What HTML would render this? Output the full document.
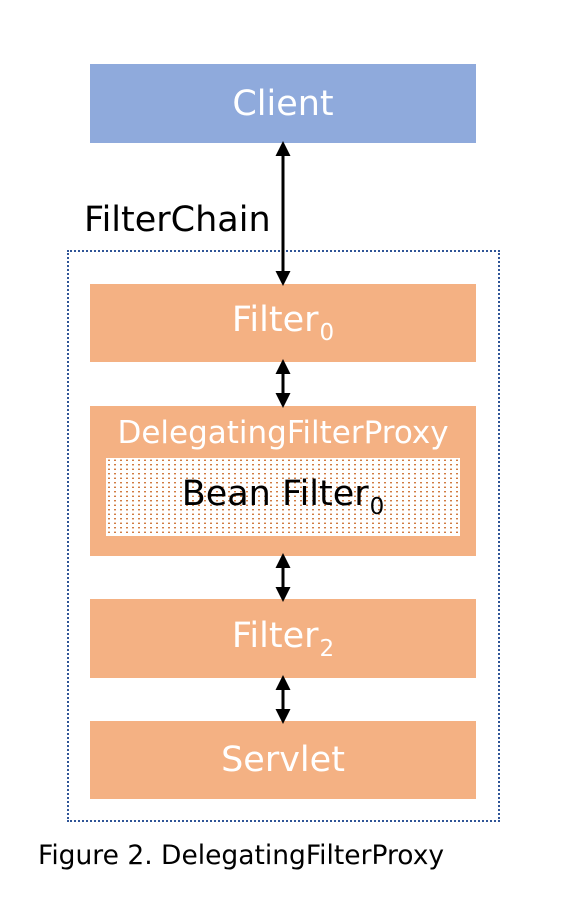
<!DOCTYPE html>
<html><head><meta charset="utf-8"><style>
body{margin:0;width:566px;height:915px;background:#fff;position:relative;overflow:hidden;font-family:"DejaVu Sans","Liberation Sans",sans-serif}
.b{position:absolute;left:90px;width:386px;display:flex;align-items:center;justify-content:center;color:#fff;font-size:35px}
.o{background:#f4b183}
sub{font-size:23px;vertical-align:-9px;margin-left:1px}
</style></head><body>
<div class="b" style="top:64px;height:79px;background:#8faadc"><span>Client</span></div>
<div style="position:absolute;left:84px;top:200px;font-size:35px;color:#000">FilterChain</div>
<div style="position:absolute;left:67px;top:250px;width:429px;height:568px;border:2px dotted #2f5597"></div>
<div class="b o" style="top:284px;height:78px"><span>Filter<sub>0</sub></span></div>
<div class="b o" style="top:406px;height:150px;align-items:flex-start">
<div style="margin-top:9px;font-size:31px">DelegatingFilterProxy</div></div>
<div style="position:absolute;left:106px;top:458px;width:354px;height:78px;background-color:#fff;background-image:radial-gradient(circle,#c55a11 0.7px,transparent 1px);background-size:6px 4.5px;display:flex;align-items:center;justify-content:center;font-size:35px;color:#000"><span>Bean Filter<sub>0</sub></span></div>
<div class="b o" style="top:599px;height:79px"><span>Filter<sub>2</sub></span></div>
<div class="b o" style="top:721px;height:78px"><span>Servlet</span></div>
<svg width="566" height="915" style="position:absolute;left:0;top:0">
<defs><marker id="a" markerWidth="5" markerHeight="5" refX="2" refY="2.5" orient="auto-start-reverse" markerUnits="strokeWidth"><path d="M0,0L5,2.5L0,5z" fill="#000"/></marker></defs>
<g stroke="#000" stroke-width="3" marker-start="url(#a)" marker-end="url(#a)">
<line x1="283" y1="150" x2="283" y2="277"/>
<line x1="283" y1="368" x2="283" y2="399"/>
<line x1="283" y1="562" x2="283" y2="593"/>
<line x1="283" y1="684" x2="283" y2="715"/>
</g></svg>
<div style="position:absolute;left:38px;top:840px;font-size:26.5px;color:#000">Figure 2. DelegatingFilterProxy</div>
</body></html>
